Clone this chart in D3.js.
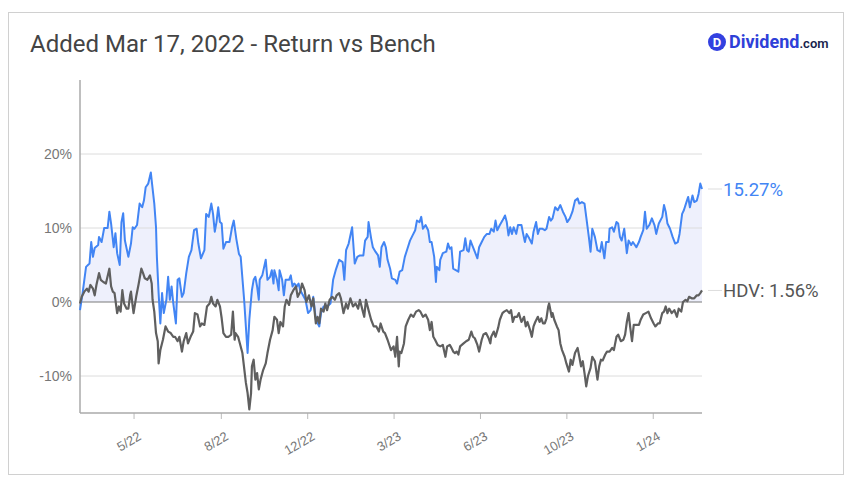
<!DOCTYPE html>
<html><head><meta charset="utf-8">
<script src="https://cdn.jsdelivr.net/npm/d3@7"></script>
<style>
html,body{margin:0;padding:0;background:#fff;}
svg{display:block;font-family:Roboto,"Open Sans",Arial,sans-serif;}
</style></head>
<body>
<svg id="chart" width="851" height="483"></svg>
<script>
// ---- data (day offset from start date, return %) ----
const startDate = "2022-03-17";
const endOffset = 720;
const titleText = "Added Mar 17, 2022 - Return vs Bench";
const yTicks = [-10, 0, 10, 20];
const tickDates = ["2022-05-18","2022-08-27","2022-12-05","2023-03-15","2023-06-23","2023-10-01","2024-01-09"];
const seriesNames = ["Portfolio", "HDV"];
const lastLabels = ["15.27%", "HDV: 1.56%"];
const portfolio = [[0,-1.1],[3,1.2],[7,4.75],[11,5.2],[13,8.1],[15,6.1],[17,7.3],[21,7.7],[22,8.8],[25,8.1],[28,10],[32,10],[34,12.2],[36,10.6],[39,7.4],[41,9.3],[43,6.6],[46,5],[48,10.8],[50,12],[52,8.3],[56,6.1],[59,7.9],[61,10.1],[63,9.9],[66,10.4],[69,13.3],[72,12.8],[74,13.7],[76,15.5],[79,16],[82,17.5],[83,16.4],[86,13.3],[88,10.1],[89,6.1],[91,1.2],[93,-2.9],[95,1.2],[97,-1.5],[100,0.3],[102,3.4],[104,0.3],[106,2.1],[108,-0.2],[111,-2.9],[113,3],[115,3.2],[118,0.7],[120,1.2],[123,3.9],[126,6.1],[129,7],[132,9.7],[135,9.9],[137,7.9],[140,5.9],[144,7],[146,11.9],[149,11.5],[152,13.3],[154,11.9],[156,9.5],[158,10.8],[160,12.8],[162,10.8],[164,10.6],[166,7.2],[169,8.1],[173,8.1],[176,10.1],[178,11],[181,8.5],[184,6.5],[186,6.1],[190,0.3],[192,-3.3],[194,-6.9],[196,-2.4],[198,0.3],[199,1.6],[201,3],[203,3.4],[205,2.1],[207,0.3],[208,3],[211,3.6],[215,5.7],[217,3],[220,3.4],[222,4.3],[224,2.5],[225,4.3],[228,3],[230,1.6],[231,4.3],[234,3],[236,0.9],[238,3],[242,3],[244,3.6],[246,2.1],[248,2.5],[251,2.1],[253,2.5],[255,1.6],[261,0.3],[264,-1.5],[267,-1.1],[270,0.7],[273,-2.4],[277,-3.3],[279,-1.5],[282,-0.6],[286,-0.6],[290,-0.2],[293,3],[296,4.3],[300,5.7],[304,5.4],[306,3],[308,7],[311,7.9],[315,10.1],[318,5.2],[321,6.1],[324,6.3],[328,6.3],[330,8.3],[333,8.8],[334,10.8],[337,8.6],[339,7.4],[342,6.8],[345,6.3],[347,4.75],[349,7.4],[352,8.1],[354,7.4],[356,5.7],[359,4.5],[361,3.2],[365,3],[367,2.5],[370,4.1],[373,4.3],[376,6.1],[379,7.2],[382,8.3],[385,9],[388,9.7],[390,11],[393,10.8],[395,11.5],[397,9.9],[400,10.4],[403,9.7],[405,8.1],[407,8.1],[410,6.1],[412,2.7],[413,4.75],[416,4.3],[417,5.7],[420,6.6],[424,6.8],[426,7.9],[428,7.2],[430,7.4],[432,4.5],[435,4.3],[438,4.1],[440,6.8],[444,7],[446,8.6],[448,7],[450,6.8],[452,8.3],[454,7.7],[457,6.8],[460,5.9],[462,7.4],[465,8.1],[468,8.8],[471,9.2],[474,9.2],[476,9.9],[479,9.5],[481,11],[483,9.7],[486,10.4],[489,11],[492,11.7],[494,10.8],[496,9],[498,10.1],[500,9.2],[502,10.1],[505,9.2],[507,10.4],[511,10.4],[513,9.2],[515,8.1],[517,9.2],[520,8.6],[523,7.9],[525,9.5],[528,10.8],[530,9.2],[532,9.9],[535,9.9],[538,9.7],[540,9.9],[543,11.5],[545,11],[547,11.3],[550,12.8],[553,12.4],[556,13.1],[559,12.2],[562,11.5],[564,10.8],[567,11.3],[570,12.2],[573,13.7],[576,14],[578,13.3],[581,13.5],[584,13.3],[586,11.5],[589,8.8],[591,6.8],[593,9.9],[596,8.8],[599,7],[602,6.8],[604,8.1],[607,5.9],[609,8.1],[612,8.1],[613,9.9],[616,10.1],[618,9.5],[621,10.8],[623,10.6],[625,8.8],[627,8.3],[630,9.9],[633,6.6],[635,8.3],[638,7.7],[640,8.1],[644,7.4],[647,8.1],[649,8.8],[652,9.7],[654,12.2],[656,9.9],[659,10.4],[662,11.3],[665,10.4],[667,9.2],[670,10.6],[674,11.5],[676,13.1],[678,12.2],[680,10.6],[683,9.9],[686,8.8],[689,7.9],[692,8.1],[694,9.2],[697,11.9],[699,12.4],[702,13.5],[704,14.2],[706,12.8],[709,14.4],[711,13.5],[714,13.7],[716,14.6],[718,16],[720,15.27]];
const benchmark = [[0,-0.2],[2,0.7],[5,1.4],[8,1.8],[10,1.4],[12,2.3],[15,1.8],[17,0.9],[19,2.3],[22,3.9],[24,3],[27,2.7],[30,2.5],[34,4.5],[36,2.1],[38,1.4],[40,1.2],[43,-1.5],[45,-0.6],[47,-1.3],[49,1.6],[51,-0.2],[54,-0.9],[56,-0.9],[58,0.9],[59,1.4],[61,-0.6],[62,-1.5],[65,0.7],[68,2.5],[71,4.5],[73,3.9],[75,3.2],[78,3],[81,3.6],[83,2.5],[84,0.3],[86,-1.3],[88,-4.2],[90,-5.3],[91,-8.3],[93,-6.5],[96,-5.1],[99,-3.3],[102,-4],[105,-4.2],[108,-4.7],[110,-4.7],[113,-5.3],[115,-4.7],[118,-6.7],[120,-5.3],[123,-4.2],[125,-5.6],[128,-4.7],[131,-4],[133,-1.5],[136,-1.7],[139,-3.3],[141,-2.9],[144,-3.1],[147,-0.6],[150,-0.2],[152,0.7],[154,-0.2],[157,-0.6],[159,0.3],[162,-0.6],[164,-2.2],[166,-4.2],[169,-4.7],[172,-4.7],[175,-4.4],[177,-1.3],[179,-5.1],[180,-4.2],[183,-4.7],[188,-6.9],[192,-10.9],[194,-12.3],[196,-14.5],[198,-12.3],[199,-8.7],[201,-7.8],[203,-10.5],[205,-9.6],[207,-11.8],[209,-10.5],[212,-9.2],[215,-8.3],[217,-6.9],[220,-5.1],[223,-3.8],[225,-2],[228,-2.4],[230,-4.2],[232,-2.7],[235,-3.3],[237,-0.6],[239,0.3],[242,-0.4],[244,0.9],[247,1.6],[250,2.1],[252,0.7],[255,1.4],[257,2.5],[260,1.6],[262,0],[265,0.9],[268,-0.6],[270,0.5],[273,-2.9],[275,-2],[277,-2.9],[279,-0.9],[282,-1.3],[284,-0.2],[286,-1.1],[289,0.3],[292,0.7],[295,0.3],[297,0.9],[300,1.2],[302,0.5],[305,-1.5],[308,-0.2],[310,-0.9],[313,0.5],[316,-0.6],[319,-0.2],[322,-0.9],[324,0.3],[327,-1.1],[329,-2],[331,0.3],[334,-1.1],[337,-2.4],[340,-3.3],[343,-3.3],[346,-4],[348,-2.9],[351,-4],[353,-4.2],[356,-5.1],[360,-6.5],[363,-6],[365,-7.4],[367,-4.7],[369,-8.7],[370,-6.7],[372,-6.9],[375,-5.6],[377,-3.3],[380,-2.4],[383,-1.7],[386,-2],[389,-1.3],[392,-1.1],[394,-1.3],[397,-2],[400,-1.7],[403,-2.4],[405,-3.8],[407,-2.7],[409,-4.7],[411,-5.1],[414,-5.8],[417,-6],[420,-5.8],[423,-7.4],[425,-6],[428,-5.8],[430,-6.2],[432,-6.7],[434,-6.9],[436,-6.7],[438,-7.1],[440,-6],[442,-5.8],[444,-5.6],[447,-5.3],[450,-5.1],[453,-4],[455,-4.7],[457,-4.9],[460,-5.8],[462,-6.7],[465,-5.1],[467,-4.4],[470,-4.2],[473,-4.9],[475,-5.6],[476,-4.7],[479,-4],[481,-4.7],[484,-3.5],[486,-2.4],[489,-1.5],[491,-1.3],[494,-1.1],[497,-1.5],[499,-1.1],[501,-2.7],[503,-2],[506,-2],[508,-1.5],[511,-2.7],[514,-2],[516,-3.3],[518,-2.7],[521,-3.8],[523,-4.7],[525,-3.3],[527,-2.7],[530,-2],[532,-2.7],[534,-2.2],[536,-2.9],[538,-2.9],[540,-2.2],[542,-0.6],[543,-0.2],[546,-2],[547,-1.5],[549,-2.4],[552,-3.3],[554,-3.8],[556,-5.6],[558,-6.5],[561,-7.4],[563,-8.3],[566,-9.4],[568,-7.8],[570,-8.5],[573,-6.9],[576,-6.2],[578,-7.4],[580,-8.7],[582,-8],[584,-9.6],[586,-11.4],[588,-10],[591,-8.9],[593,-7.4],[596,-8],[599,-10.5],[601,-8.7],[603,-7.8],[605,-7.9],[608,-7.1],[610,-6.7],[613,-6.7],[616,-6.2],[618,-6.5],[621,-4.7],[623,-4.4],[626,-5.3],[629,-5.1],[631,-4.4],[633,-2.7],[635,-1.5],[637,-3.5],[639,-5.3],[641,-3.1],[644,-3.1],[647,-3.1],[649,-2.4],[652,-1.7],[655,-1.5],[658,-1.3],[661,-2.2],[664,-2.9],[666,-3.3],[669,-2.9],[671,-2.9],[674,-1.5],[676,-1.3],[678,-0.6],[680,-1.5],[682,-0.9],[685,-1.5],[688,-1.1],[691,-2],[693,-0.9],[696,-1.3],[698,0],[701,0.3],[703,0.1],[705,0.7],[708,0.5],[711,0.5],[714,0.9],[716,0.9],[718,1.2],[720,1.56]];

// ---- drawing ----
const svg = d3.select("#chart");
const M = {left: 80, right: 702, top: 80, bottom: 413};
const parse = d3.timeParse("%Y-%m-%d");
const t0 = parse(startDate);
const toDate = d => d3.timeDay.offset(t0, d);

const x = d3.scaleTime().domain([t0, toDate(endOffset)]).range([M.left, M.right]);
const y = d3.scaleLinear().domain([-15, 30]).range([M.bottom, M.top]);

// card border
svg.append("rect").attr("x", 8.5).attr("y", 12.5).attr("width", 835).attr("height", 462)
  .attr("fill", "#fff").attr("stroke", "#d0d0d0").attr("stroke-width", 1);

// title
svg.append("text").attr("x", 30).attr("y", 52).attr("font-size", 24).attr("fill", "#444")
  .text(titleText);

// logo
const logo = svg.append("g");
logo.append("circle").attr("cx", 717).attr("cy", 42).attr("r", 9).attr("fill", "#3340e0");
logo.append("text").attr("x", 717).attr("y", 47).attr("text-anchor", "middle").attr("font-size", 13)
  .attr("font-weight", 700).attr("fill", "#fff").text("D");
const lt = logo.append("text").attr("x", 729).attr("y", 48).attr("font-weight", 700);
lt.append("tspan").attr("font-size", 18).attr("fill", "#2f3fd8").text("Dividend");
lt.append("tspan").attr("font-size", 13).attr("font-weight", 600).attr("fill", "#1a1f4d").text(".com");

// area fill
const area = d3.area().x(d => x(toDate(d[0]))).y0(y(0)).y1(d => y(d[1]));
svg.append("path").datum(portfolio).attr("d", area).attr("fill", "#eef0fc");

// grid
svg.append("g").selectAll("line").data(yTicks.filter(v => v !== 0)).join("line")
  .attr("x1", M.left).attr("x2", M.right).attr("y1", d => y(d)).attr("y2", d => y(d))
  .attr("stroke", "#dcdcdc").attr("stroke-width", 1);

// y labels
svg.append("g").selectAll("text").data(yTicks).join("text")
  .attr("x", 72).attr("y", d => y(d) + 5).attr("text-anchor", "end")
  .attr("font-family", "'Liberation Sans', Arial, sans-serif")
  .attr("font-size", 14).attr("fill", "#777").text(d => d + "%");

// x axis
const xAxis = svg.append("g").attr("transform", `translate(0,${M.bottom})`)
  .call(d3.axisBottom(x).tickValues(tickDates.map(parse)).tickSize(6).tickFormat(d3.timeFormat("%-m/%y")));
xAxis.select(".domain").remove();
xAxis.selectAll(".tick line").attr("stroke", "#bbb");
xAxis.selectAll(".tick text").attr("font-size", 13).attr("fill", "#777")
  .attr("font-family", "'Liberation Sans', Arial, sans-serif")
  .attr("text-anchor", "end").attr("dy", null).attr("y", 0)
  .attr("transform", "translate(8,26) rotate(-30)");

// axis lines
svg.append("line").attr("x1", M.left).attr("x2", M.left).attr("y1", M.top).attr("y2", M.bottom)
  .attr("stroke", "#aaa").attr("stroke-width", 1.5);
svg.append("line").attr("x1", M.left).attr("x2", M.right).attr("y1", M.bottom).attr("y2", M.bottom)
  .attr("stroke", "#aaa").attr("stroke-width", 1.5);

// zero line
svg.append("line").attr("x1", M.left).attr("x2", M.right).attr("y1", y(0)).attr("y2", y(0))
  .attr("stroke", "#7a7a7a").attr("stroke-width", 1.2);

// lines
const line = d3.line().x(d => x(toDate(d[0]))).y(d => y(d[1]));
svg.append("path").datum(portfolio).attr("d", line).attr("fill", "none")
  .attr("stroke", "#4285f4").attr("stroke-width", 2).attr("stroke-linejoin", "round");
svg.append("path").datum(benchmark).attr("d", line).attr("fill", "none")
  .attr("stroke", "#5f5f5f").attr("stroke-width", 2.2).attr("stroke-linejoin", "round");

// end labels
const ends = [
  {v: portfolio[portfolio.length - 1][1], label: lastLabels[0], color: "#4285f4"},
  {v: benchmark[benchmark.length - 1][1], label: lastLabels[1], color: "#555"}
];
ends.forEach(e => {
  svg.append("line").attr("x1", M.right + 6).attr("x2", M.right + 20)
    .attr("y1", y(e.v)).attr("y2", y(e.v)).attr("stroke", "#ddd");
  svg.append("text").attr("x", 723).attr("y", y(e.v) + 6.5).attr("font-size", 18.5)
    .attr("fill", e.color).text(e.label);
});
</script>
</body></html>
